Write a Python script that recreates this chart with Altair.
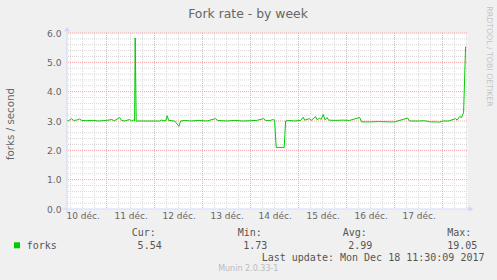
import json
import altair as alt
import pandas as pd

# ---- data (hours since 10 Dec 2017 00:00, fork rate) ----
hours = [4.0, 5.0, 6.5, 7.5, 9.0, 10.5, 11.5, 14.0, 17.0, 20.0, 24.0, 26.5, 28.0, 30.5, 31.5,
         33.0, 35.5, 36.5, 37.5, 38.0, 38.3, 38.8, 50.5, 51.5, 53.5, 54.3, 55.0, 58.0, 60.2,
         61.0, 63.0, 66.0, 70.0, 74.0, 78.5, 79.5, 84.0, 88.0, 92.0, 96.0, 99.0, 102.5, 103.5,
         106.0, 107.0, 108.0, 108.8, 112.8, 113.5, 115.0, 118.0, 121.0, 122.3, 123.0, 125.5,
         126.3, 128.5, 129.3, 130.5, 131.2, 132.3, 133.2, 134.2, 135.0, 138.0, 142.0, 145.5,
         150.5, 151.5, 156.0, 160.0, 166.0, 168.0, 174.5, 175.5, 180.0, 183.0, 186.0, 189.0,
         190.5, 192.0, 195.0, 198.5, 199.3, 200.5, 201.5, 202.5, 203.5]
forks = [3.02, 3.01, 3.08, 3.02, 3.03, 3.07, 3.02, 3.01, 3.02, 3.00, 3.02, 3.05, 3.01, 3.12, 3.02,
         3.00, 3.05, 3.00, 3.03, 3.00, 5.83, 3.00, 3.00, 3.03, 3.00, 3.18, 3.02, 3.00, 2.82,
         3.00, 3.02, 3.00, 3.02, 3.00, 3.08, 3.02, 3.00, 3.02, 3.00, 3.01, 3.02, 3.08, 3.02,
         3.02, 3.05, 3.03, 2.10, 2.10, 3.00, 3.02, 3.00, 3.02, 3.13, 3.03, 3.08,
         3.02, 3.15, 3.04, 3.10, 3.05, 3.22, 3.04, 3.12, 3.03, 3.02, 3.03, 3.02,
         3.12, 2.97, 2.97, 2.98, 2.97, 2.97, 3.10, 3.00, 3.00, 3.01, 2.97, 2.97,
         2.96, 3.00, 3.00, 3.08, 3.03, 3.15, 3.12, 3.30, 5.54]

day_labels = ["10 déc.", "11 déc.", "12 déc.", "13 déc.", "14 déc.", "15 déc.", "16 déc.", "17 déc."]
label_hours = [12, 36, 60, 84, 108, 132, 156, 180]
major_x = [24, 48, 72, 96, 120, 144, 168, 192]
minor_x = [h for h in range(6, 205, 6) if h % 24 != 0]
major_y = [1, 2, 3, 4, 5, 6]
minor_y = [round(0.2 * i, 1) for i in range(1, 31) if i % 5 != 0]
y_ticks = [0, 1, 2, 3, 4, 5, 6]

legend_heads = ["Cur:", "Min:", "Avg:", "Max:"]
legend_vals = ["5.54", "1.73", "2.99", "19.05"]
series_name = "forks"
title_text = "Fork rate - by week"
y_title = "forks / second"
last_update = "Last update: Mon Dec 18 11:30:09 2017"
munin_ver = "Munin 2.0.33-1"
watermark = "RRDTOOL / TOBI OETIKER"

X_DOMAIN = [4.2, 204.2]
Y_DOMAIN = [0, 6]
W, H = 400, 176
L, T = 67, 33
FONT = "DejaVu Sans"
MONO = "DejaVu Sans Mono"
FC = "#666666"
LC = "#555555"
AXC = "#CFD6F8"
GREEN = "#00CC00"

df = pd.DataFrame({"h": hours, "v": forks})
xs = alt.Scale(domain=X_DOMAIN, nice=False, zero=False)
ys = alt.Scale(domain=Y_DOMAIN, nice=False, zero=False)
dummy = pd.DataFrame({"a": [0]})

label_expr = json.dumps(day_labels, ensure_ascii=False) + "[floor(datum.value/24)]"
x_axis = alt.Axis(values=label_hours, labelExpr=label_expr, grid=False, ticks=False,
                  domain=False, labelFont=FONT, labelFontSize=9, labelColor=FC,
                  labelPadding=2, labelFlush=False, labelOverlap=False)
y_axis = alt.Axis(values=y_ticks, format=".1f", grid=False, ticks=False,
                  domain=False, labelFont=FONT, labelFontSize=9.2, labelColor=FC,
                  labelPadding=6, labelFlush=False, labelOverlap=False)


def vrules(vals, color):
    return alt.Chart(pd.DataFrame({"h": vals})).mark_rule(
        color=color, strokeWidth=1, strokeDash=[1, 1]
    ).encode(x=alt.X("h:Q", scale=xs, axis=x_axis, title=None))


def hrules(vals, color):
    return alt.Chart(pd.DataFrame({"v": vals})).mark_rule(
        color=color, strokeWidth=1, strokeDash=[1, 1]
    ).encode(y=alt.Y("v:Q", scale=ys, axis=y_axis, title=None))


def txt(s, x, y, size, font=FONT, color=FC, align="left", angle=0):
    return alt.Chart(dummy).mark_text(
        text=s, font=font, fontSize=size, color=color, align=align,
        baseline="middle", angle=angle
    ).encode(x=alt.value(x - L), y=alt.value(y - T))


grid = [
    vrules(minor_x, "#D8D8D8"),
    hrules(minor_y, "#D8D8D8"),
    vrules(major_x, "#F4A0A0"),
    hrules(major_y, "#F4A0A0"),
]

line = alt.Chart(df).mark_line(color=GREEN, strokeWidth=1, clip=True).encode(
    x=alt.X("h:Q", scale=xs, title=None, axis=x_axis),
    y=alt.Y("v:Q", scale=ys, title=None, axis=y_axis),
)

axes = [
    alt.Chart(dummy).mark_rule(color=AXC, strokeWidth=1).encode(
        x=alt.value(-4), x2=alt.value(402), y=alt.value(H)),
    alt.Chart(dummy).mark_rule(color=AXC, strokeWidth=1).encode(
        x=alt.value(0), y=alt.value(-2), y2=alt.value(H + 3)),
    alt.Chart(dummy).mark_point(shape="triangle-right", filled=True, color=AXC, size=30, opacity=1).encode(
        x=alt.value(404), y=alt.value(H)),
    alt.Chart(dummy).mark_point(shape="triangle-up", filled=True, color=AXC, size=30, opacity=1).encode(
        x=alt.value(0), y=alt.value(-4)),
]

texts = [
    txt(title_text, 248, 13.5, 12.4, align="center"),
    txt(y_title, 10.5, 124, 10.3, align="center", angle=270),
    txt(watermark, 489, 56.5, 7.8, color="#C4C4C4", align="center", angle=90),
    alt.Chart(dummy).mark_square(color=GREEN, size=36, opacity=1).encode(
        x=alt.value(17 - L), y=alt.value(245.3 - T)),
    txt(series_name, 26.7, 245.5, 10, font=MONO, color=LC),
    txt(last_update, 261.7, 257.7, 10, font=MONO, color=LC),
    txt(munin_ver, 248.3, 269.3, 8, color="#BBBBBB", align="center"),
]
head_x = [131.7, 237.7, 342.7, 447.3]
val_right = [161.7, 267.3, 372.3, 477.3]
for hd, hx in zip(legend_heads, head_x):
    texts.append(txt(hd, hx, 233.3, 10, font=MONO, color=LC))
for vl, vx in zip(legend_vals, val_right):
    texts.append(txt(vl, vx, 245.5, 10, font=MONO, color=LC, align="right"))

chart = alt.layer(*grid, line, *axes, *texts).properties(
    width=W, height=H,
    autosize=alt.AutoSizeParams(type="none"),
    padding={"left": L, "top": T, "right": 497 - L - W, "bottom": 280 - T - H},
    background="#F0F0F0",
).configure_view(fill="white", stroke="transparent")

chart.save("out.html", embed_options={"renderer": "svg", "actions": False})
